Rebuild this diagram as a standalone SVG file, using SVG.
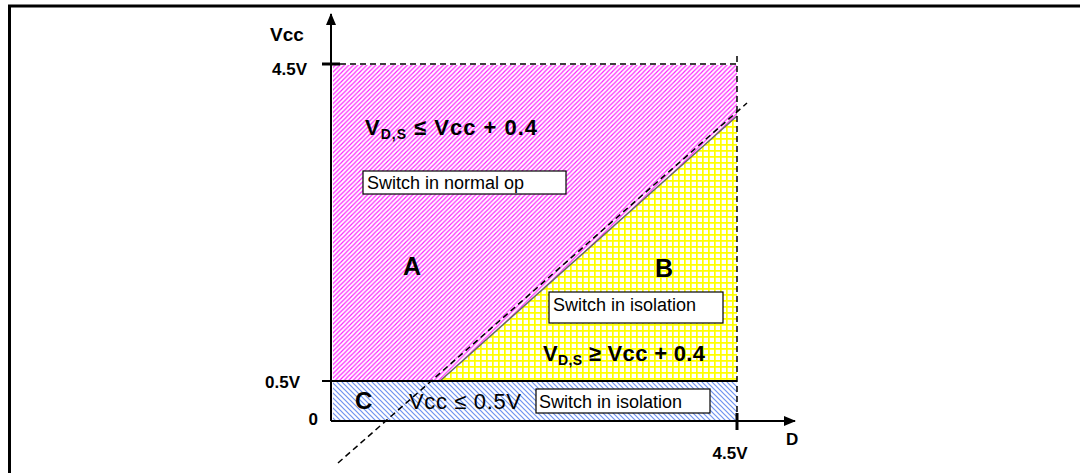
<svg xmlns="http://www.w3.org/2000/svg" width="1080" height="473" viewBox="0 0 1080 473">
<style>
.ax{font-family:"Liberation Sans",Arial,sans-serif;font-weight:bold;font-size:17px;fill:#000}
.big{font-family:"Liberation Sans",Arial,sans-serif;font-weight:bold;font-size:25px;fill:#000}
.eq{font-family:"Liberation Sans",Arial,sans-serif;font-weight:bold;font-size:22px;fill:#000}
.sub{font-size:14px}
.lbl{font-family:"Liberation Sans",Arial,sans-serif;font-size:18px;fill:#000}
.box{fill:#fff;stroke:#000;stroke-width:1.2}
.dash{stroke:#000;stroke-width:1.5;stroke-dasharray:6,4;fill:none}
</style>
<defs>
<pattern id="pink" patternUnits="userSpaceOnUse" width="4.5" height="4.5">
<rect width="4.5" height="4.5" fill="#fff"/>
<path d="M-1,1 l2,-2 M0,4.5 l4.5,-4.5 M3.5,5.5 l2,-2" stroke="#ff22ff" stroke-width="1.2"/>
</pattern>
<pattern id="blue" patternUnits="userSpaceOnUse" width="5" height="5">
<rect width="5" height="5" fill="#fff"/>
<path d="M-1,4 l2,2 M0,0 l5,5 M4,-1 l2,2" stroke="#6f93f0" stroke-width="1.2"/>
</pattern>
<pattern id="yel" patternUnits="userSpaceOnUse" width="6" height="6">
<rect width="6" height="6" fill="#fff"/>
<path d="M0,0.8 h6 M0.8,0 v6" stroke="#ffff00" stroke-width="1.8"/>
</pattern>
<marker id="arr" markerWidth="12" markerHeight="10" refX="11" refY="5" orient="auto" markerUnits="userSpaceOnUse">
<path d="M0,0 L12,5 L0,10 Z" fill="#000"/>
</marker>
</defs>
<rect width="1080" height="473" fill="#fff"/>
<path d="M9.5,473 V6 H1080" fill="none" stroke="#000" stroke-width="3"/>

<g id="region-A">
<rect x="333" y="65" width="404" height="316" fill="url(#pink)"/>
</g>
<g id="region-B">
<polygon points="440,381 737,381 737,116" fill="url(#yel)"/>
<line x1="440" y1="381" x2="737" y2="116" stroke="#666" stroke-width="1.5"/>
</g>
<g id="region-C">
<rect x="333" y="382" width="404" height="39" fill="url(#blue)"/>
</g>

<g id="connectors">
<line x1="331" y1="421" x2="331" y2="14" stroke="#000" stroke-width="2" marker-end="url(#arr)"/>
<line x1="331" y1="421" x2="795" y2="421" stroke="#000" stroke-width="2" marker-end="url(#arr)"/>
<line x1="322" y1="64" x2="340" y2="64" stroke="#000" stroke-width="3"/>
<line x1="340" y1="64" x2="737" y2="64" class="dash"/>
<line x1="322" y1="381" x2="737" y2="381" stroke="#000" stroke-width="2"/>
<line x1="737" y1="56" x2="737" y2="413" class="dash"/>
<line x1="737" y1="413" x2="737" y2="430" stroke="#000" stroke-width="3"/>
<line x1="338" y1="463" x2="747" y2="103" class="dash" stroke-width="1.2"/>
</g>

<g id="axis-labels">
<text class="ax" x="270" y="41" style="font-size:19px">Vcc</text>
<text class="ax" x="307" y="75" text-anchor="end">4.5V</text>
<text class="ax" x="300" y="388" text-anchor="end">0.5V</text>
<text class="ax" x="318" y="425" text-anchor="end">0</text>
<text class="ax" x="730" y="459" text-anchor="middle">4.5V</text>
<text class="ax" x="786" y="445">D</text>
</g>

<g id="label-A">
<text class="eq" x="365" y="135" textLength="172" lengthAdjust="spacing">V<tspan class="sub" dy="4">D,S</tspan><tspan dy="-4"> ≤ Vcc + 0.4</tspan></text>
<rect class="box" x="363" y="171" width="203" height="23"/>
<text class="lbl" x="367" y="189">Switch in normal op</text>
<text class="big" x="403" y="275">A</text>
</g>

<g id="label-B">
<text class="big" x="655" y="277">B</text>
<rect class="box" x="549" y="292" width="174" height="31"/>
<text class="lbl" x="553" y="311">Switch in isolation</text>
<text class="eq" x="543" y="361" textLength="162" lengthAdjust="spacing">V<tspan class="sub" dy="4">D,S</tspan><tspan dy="-4"> ≥ Vcc + 0.4</tspan></text>
</g>

<g id="label-C">
<text class="big" x="355" y="409" style="font-size:24px">C</text>
<text class="lbl" x="409" y="409" style="font-size:22px" textLength="112" lengthAdjust="spacing">Vcc ≤ 0.5V</text>
<rect class="box" x="536" y="389" width="174" height="24"/>
<text class="lbl" x="539" y="408">Switch in isolation</text>
</g>
</svg>
